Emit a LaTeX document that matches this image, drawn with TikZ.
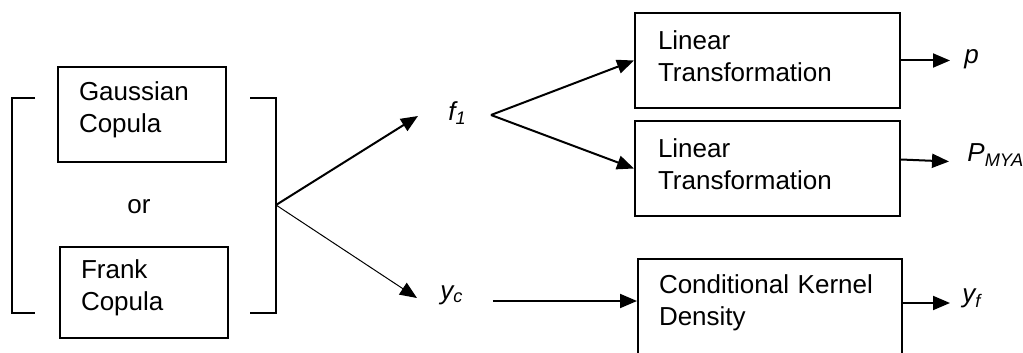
\documentclass[tikz,border=0pt]{standalone}
\usepackage{fontspec}
\setmainfont{Liberation Sans}
\usetikzlibrary{arrows.meta}
\begin{document}
\begin{tikzpicture}[x=0.5pt,y=-0.5pt,
  txt/.style={font=\fontsize{13}{16}\selectfont},
  box/.style={txt,draw,line width=1pt,inner xsep=10.5pt,inner ysep=0pt,
    align=left,anchor=north west,text depth=23.2pt},
  lbl/.style={inner sep=0pt,anchor=west,font=\fontsize{13}{16}\selectfont\itshape},
  arr/.style={line width=1pt,-{Triangle[length=8.5pt,width=7pt]}},
  bracket/.style={line width=1pt}]
\useasboundingbox (0,0) rectangle (1023,353);
\clip (0,0) rectangle (1023,353);

% copula alternatives
\node[box,minimum width=84pt,minimum height=47.5pt,text width=63pt] (gauss) at (57,66) {Gaussian\\Copula};
\node[txt,inner sep=0pt] (or) at (139,207) {or};
\node[box,minimum width=84pt,minimum height=45.5pt,text width=63pt] (frank) at (59,246) {Frank\\Copula};

% square brackets round the alternatives
\draw[bracket] (35,98) -| (12,313) -- (35,313);
\draw[bracket] (250,98) -| (276,313) -- (250,313);
\coordinate (split) at (276,205);

% intermediate variables
\node[lbl] (f1) at (448,113) {f\textsubscript{1}};
\node[lbl] (yc) at (440,295) {y\textsubscript{c}};
\coordinate (ftip) at (418,116);
\coordinate (yctip) at (417,298);
\coordinate (fsplit) at (491,115);

% processing boxes
\node[box,inner xsep=11.5pt,text depth=20.5pt,minimum width=132.5pt,minimum height=47.5pt,text width=109.5pt] (lin1) at (634,12) {Linear\\Transformation};
\node[box,inner xsep=11.5pt,text depth=20.5pt,minimum width=132.5pt,minimum height=47.5pt,text width=109.5pt] (lin2) at (634,120) {Linear\\Transformation};
\node[box,minimum width=132pt,minimum height=48pt,text width=111pt] (cond) at (637,258) {Conditional Kernel\\Density};

% outputs
\node[lbl] (p) at (964,59) {p};
\node[lbl] (pmya) at (967,155) {P\textsubscript{MYA}};
\node[lbl] (yf) at (962,298) {y\textsubscript{f}};

% connectors
\draw[arr] (split) -- (ftip);
\draw[arr,line width=0.5pt] (split) -- (yctip);
\draw[arr] (fsplit) -- (lin1.west);
\draw[arr] (fsplit) -- (lin2.west);
\draw[arr] (yc.east |- cond.west) ++(29,-6) coordinate (ycout) -- ([yshift=3pt]cond.west);
\draw[arr] (lin1.east) -- ([xshift=-7pt]lin1.east -| p.west);
\draw[arr] ([yshift=4.5pt]lin2.east) -- ([xshift=-9pt,yshift=3.5pt]lin2.east -| pmya.west);
\draw[arr] ([yshift=2pt]cond.east) -- ([xshift=-6pt,yshift=2pt]cond.east -| yf.west);
\end{tikzpicture}
\end{document}
